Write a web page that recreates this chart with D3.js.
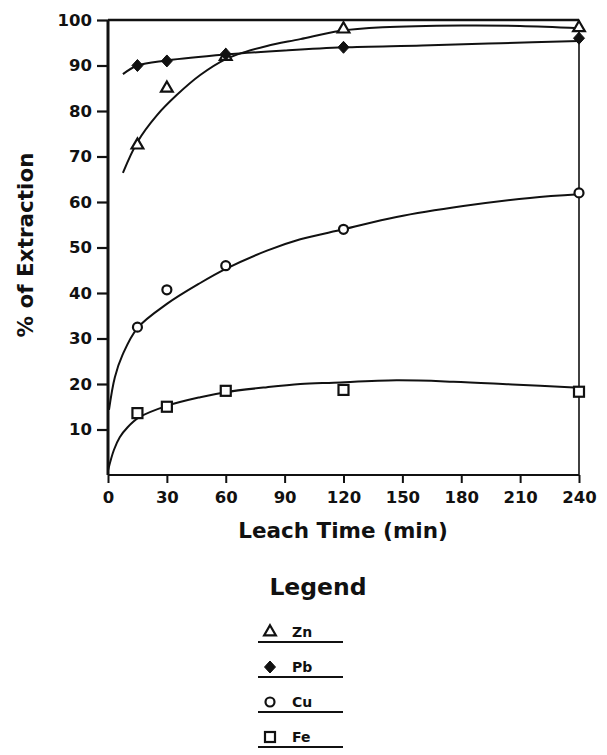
<!DOCTYPE html>
<html>
<head>
<meta charset="utf-8">
<script src="https://cdn.jsdelivr.net/npm/d3@7"></script>
<style>
  html, body { margin: 0; padding: 0; background: #fff; }
  svg { display: block; }
  text { font-family: "DejaVu Sans", "Liberation Sans", sans-serif; fill: #111; }
</style>
</head>
<body>
<svg id="chart" width="607" height="755"></svg>
<script>
// Sampling times (min) and measured extraction (%) per metal
const times = [15, 30, 60, 120, 240];
const znValues = [72.5, 85, 92, 98, 98.3];
const pbValues = [90, 91, 92.5, 94, 96];
const cuValues = [32.5, 40.7, 46, 54, 62];
const feValues = [13.6, 15, 18.5, 18.7, 18.3];

// Smoothed trend curves drawn through each metal's data, [time, %]
const znCurve = [[7.6, 66.4], [15, 73.2], [25, 79.1], [35, 83.5], [47, 87.9], [60, 91.4], [70, 93], [81, 94.3], [98, 95.8], [118, 97.6], [140, 98.4], [180, 98.8], [210, 98.7], [240, 98.2]];
const pbCurve = [[7.6, 88.1], [15, 90], [30, 91.1], [60, 92.4], [90, 93.3], [120, 94], [160, 94.4], [200, 94.9], [240, 95.4]];
const cuCurve = [[0.5, 14.3], [3.5, 21.5], [7.5, 26.5], [15, 32.3], [30, 37.6], [47, 42.2], [60, 45.3], [81, 49.3], [98, 51.8], [120, 54], [147, 56.7], [181, 59.1], [215, 60.9], [240, 61.7]];
const feCurve = [[0, 1], [3, 5.5], [6, 8.3], [10, 10.5], [16, 12.7], [30, 15.2], [47, 17.1], [60, 18.2], [81, 19.3], [98, 20], [115, 20.3], [147, 20.8], [176, 20.5], [206, 19.9], [240, 19.2]];

const xTicks = [0, 30, 60, 90, 120, 150, 180, 210, 240];
const yTicks = [10, 20, 30, 40, 50, 60, 70, 80, 90, 100];
const xTickLabels = ["0", "30", "60", "90", "120", "150", "180", "210", "240"];

const series = [
  { name: "Zn", values: znValues, curve: znCurve, symbol: "triangle" },
  { name: "Pb", values: pbValues, curve: pbCurve, symbol: "diamond" },
  { name: "Cu", values: cuValues, curve: cuCurve, symbol: "circle" },
  { name: "Fe", values: feValues, curve: feCurve, symbol: "square" }
];

const svg = d3.select("#chart");
const plot = { left: 108, right: 579, top: 20, bottom: 475 };

const x = d3.scaleLinear().domain([0, 240]).range([plot.left, plot.right]);
const y = d3.scaleLinear().domain([0, 100]).range([plot.bottom, plot.top]);

// Frame: top and right edges
svg.append("line").attr("x1", plot.left).attr("x2", plot.right)
  .attr("y1", plot.top).attr("y2", plot.top)
  .attr("stroke", "#111").attr("stroke-width", 2.5);
svg.append("line").attr("x1", plot.right).attr("x2", plot.right)
  .attr("y1", plot.top).attr("y2", plot.bottom)
  .attr("stroke", "#111").attr("stroke-width", 1.6);

// Left axis
const yAxis = d3.axisLeft(y).tickValues(yTicks).tickSize(11).tickPadding(5)
  .tickFormat(d3.format("d"));
const gy = svg.append("g").attr("transform", `translate(${plot.left},0)`).call(yAxis);
gy.select(".domain").attr("stroke", "#111").attr("stroke-width", 3)
  .attr("d", `M0,${plot.top}V${plot.bottom}`);
gy.selectAll(".tick line").attr("stroke", "#111").attr("stroke-width", 2.2);
gy.selectAll(".tick text").attr("font-size", 16.5).attr("font-weight", "bold")
  .attr("font-family", "DejaVu Sans").attr("fill", "#111");

// Bottom axis
const xAxis = d3.axisBottom(x).tickValues(xTicks).tickSize(8).tickPadding(8)
  .tickFormat((d, i) => xTickLabels[i]);
const gx = svg.append("g").attr("transform", `translate(0,${plot.bottom})`).call(xAxis);
gx.select(".domain").attr("stroke", "#111").attr("stroke-width", 2.2)
  .attr("d", `M${plot.left},0H${plot.right}`);
gx.selectAll(".tick line").attr("stroke", "#111").attr("stroke-width", 2);
gx.selectAll(".tick text").attr("font-size", 16.5).attr("font-weight", "bold")
  .attr("font-family", "DejaVu Sans").attr("fill", "#111");

// Axis titles
svg.append("text").attr("x", 343).attr("y", 538).attr("text-anchor", "middle")
  .attr("font-size", 21.5).attr("font-weight", "bold").text("Leach Time (min)");
svg.append("text").attr("transform", "translate(33,245) rotate(-90)")
  .attr("text-anchor", "middle").attr("font-size", 21.5).attr("font-weight", "bold")
  .text("% of Extraction");

// Trend curves
const line = d3.line().x(d => x(d[0])).y(d => y(d[1])).curve(d3.curveCatmullRom.alpha(0.5));
svg.append("g").selectAll("path").data(series).join("path")
  .attr("d", d => line(d.curve))
  .attr("fill", "none").attr("stroke", "#111").attr("stroke-width", 2);

// Marker drawing
function drawMarker(g, symbol, cx, cy) {
  if (symbol === "triangle") {
    g.append("path").attr("d", d3.symbol(d3.symbolTriangle, 60)())
      .attr("transform", `translate(${cx},${cy})`)
      .attr("fill", "#fff").attr("stroke", "#111").attr("stroke-width", 2.2);
  } else if (symbol === "diamond") {
    g.append("path").attr("d", "M0,-6L5.5,0L0,6L-5.5,0Z")
      .attr("transform", `translate(${cx},${cy})`)
      .attr("fill", "#111").attr("stroke", "#111").attr("stroke-width", 1);
  } else if (symbol === "circle") {
    g.append("circle").attr("cx", cx).attr("cy", cy).attr("r", 4.5)
      .attr("fill", "#fff").attr("stroke", "#111").attr("stroke-width", 2.2);
  } else {
    g.append("rect").attr("x", cx - 5).attr("y", cy - 5).attr("width", 10).attr("height", 10)
      .attr("fill", "#fff").attr("stroke", "#111").attr("stroke-width", 2.2);
  }
}

const markers = svg.append("g");
series.forEach(s => {
  s.values.forEach((v, i) => drawMarker(markers, s.symbol, x(times[i]), y(v)));
});

// Legend
const legend = svg.append("g");
legend.append("text").attr("x", 318).attr("y", 595).attr("text-anchor", "middle")
  .attr("font-size", 23.5).attr("font-weight", "bold").text("Legend");
series.forEach((s, i) => {
  const ly = 632 + i * 35;
  drawMarker(legend, s.symbol, 270, ly);
  legend.append("text").attr("x", 292).attr("y", ly + 5)
    .attr("font-size", 14).attr("font-weight", "bold").text(s.name);
  legend.append("line").attr("x1", 258).attr("x2", 343)
    .attr("y1", ly + 10).attr("y2", ly + 10)
    .attr("stroke", "#111").attr("stroke-width", 2);
});
</script>
</body>
</html>
